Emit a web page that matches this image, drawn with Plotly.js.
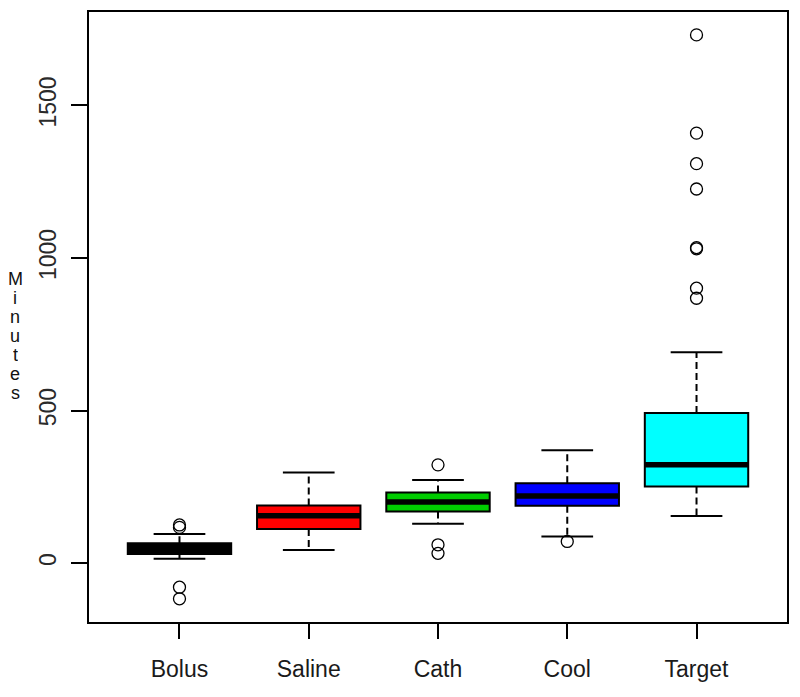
<!DOCTYPE html>
<html>
<head>
<meta charset="utf-8">
<script src="https://cdn.plot.ly/plotly-3.0.1.min.js"></script>
<style>html,body{margin:0;padding:0;background:#fff;}#chart{width:800px;height:697px;}</style>
</head>
<body>
<div id="chart"></div>
<script>
// ---- data ----
const categories = ['Bolus', 'Saline', 'Cath', 'Cool', 'Target'];
const q1Values     = [30, 112, 169, 188, 251];
const medianValues = [47, 155, 200, 220, 322];
const q3Values     = [65, 189, 231, 262, 492];
const lowerWhisker = [14, 43, 129, 87, 154];
const upperWhisker = [95, 297, 272, 370, 691];
const outliersBolus  = [-117, -79, 117, 125];
const outliersSaline = [];
const outliersCath   = [32, 60, 322];
const outliersCool   = [71];
const outliersTarget = [868, 901, 1030, 1034, 1226, 1309, 1409, 1731];
const outlierLists = [outliersBolus, outliersSaline, outliersCath, outliersCool, outliersTarget];
const fillColors = ['#000000', '#FF0000', '#00CD00', '#0000FF', '#00FFFF'];
const yTickValues = [0, 500, 1000, 1500];
const yTitle = 'Minutes';

// ---- style ----
const BOX_W = 0.8, CAP_W = 0.4;
const FONT = 'Liberation Sans, Arial, sans-serif';
const W = 800, H = 697, M = {l: 89, r: 13, t: 12, b: 75};
const traces = [];

categories.forEach((c, i) => {
  const x = i + 1;
  traces.push({
    type: 'box', x: [x], q1: [q1Values[i]], median: [medianValues[i]], q3: [q3Values[i]],
    lowerfence: [q1Values[i]], upperfence: [q3Values[i]],
    width: BOX_W, whiskerwidth: 0, fillcolor: fillColors[i],
    line: {color: '#000', width: 2}, boxpoints: false, hoverinfo: 'skip', showlegend: false
  });
});
categories.forEach((c, i) => {
  const x = i + 1;
  // whiskers (dashed)
  traces.push({
    type: 'scatter', mode: 'lines',
    x: [x, x, null, x, x],
    y: [q3Values[i], upperWhisker[i], null, q1Values[i], lowerWhisker[i]],
    line: {color: '#000', width: 2, dash: '7px,4px'}, hoverinfo: 'skip', showlegend: false
  });
  // staples
  traces.push({
    type: 'scatter', mode: 'lines',
    x: [x - CAP_W / 2, x + CAP_W / 2, null, x - CAP_W / 2, x + CAP_W / 2],
    y: [upperWhisker[i], upperWhisker[i], null, lowerWhisker[i], lowerWhisker[i]],
    line: {color: '#000', width: 2}, hoverinfo: 'skip', showlegend: false
  });
  // thick median
  traces.push({
    type: 'scatter', mode: 'lines',
    x: [x - BOX_W / 2, x + BOX_W / 2],
    y: [medianValues[i], medianValues[i]],
    line: {color: '#000', width: 5.5}, hoverinfo: 'skip', showlegend: false
  });
  // outliers
  if (outlierLists[i].length) {
    traces.push({
      type: 'scatter', mode: 'markers',
      x: outlierLists[i].map(() => x), y: outlierLists[i],
      marker: {symbol: 'circle-open', size: 12, color: '#000', line: {width: 1.3, color: '#000'}},
      hoverinfo: 'skip', showlegend: false
    });
  }
});

// stacked y-axis title, one letter per line with a tight pitch
const plotH = H - M.t - M.b;
const LETTER_PITCH = 19, FIRST_CENTER = 279;
const titleAnnotations = yTitle.split('').map((ch, k) => ({
  xref: 'paper', yref: 'paper',
  x: (15 - M.l) / (W - M.l - M.r),
  y: (H - M.b - (FIRST_CENTER + LETTER_PITCH * k)) / plotH,
  xanchor: 'center', yanchor: 'middle', showarrow: false,
  height: 18, valign: 'middle',
  text: ch, font: {size: 18, family: FONT, color: '#111'}
}));

const layout = {
  width: W, height: H,
  margin: M,
  paper_bgcolor: '#fff', plot_bgcolor: '#fff',
  font: {family: FONT, color: '#1a1a1a'},
  showlegend: false,
  xaxis: {
    range: [0.3, 5.7], tickmode: 'array',
    tickvals: categories.map((c, i) => i + 1), ticktext: categories,
    ticks: 'outside', ticklen: 15, tickwidth: 2, tickcolor: '#000',
    showline: true, linecolor: '#000', linewidth: 2, mirror: true,
    showgrid: false, zeroline: false,
    tickfont: {size: 23, family: FONT, color: '#1a1a1a'},
    ticklabelstandoff: 10
  },
  yaxis: {
    range: [-193, 1806], tickmode: 'array', tickvals: yTickValues,
    ticktext: yTickValues.map(String),
    ticks: 'outside', ticklen: 16, tickwidth: 2, tickcolor: '#000',
    showline: true, linecolor: '#000', linewidth: 2, mirror: true,
    showgrid: false, zeroline: false, tickangle: -90,
    tickfont: {size: 23, family: FONT, color: '#2a2a2a'},
    ticklabelstandoff: 6
  },
  annotations: titleAnnotations
};

Plotly.newPlot('chart', traces, layout, {staticPlot: true, displayModeBar: false});
</script>
</body>
</html>
